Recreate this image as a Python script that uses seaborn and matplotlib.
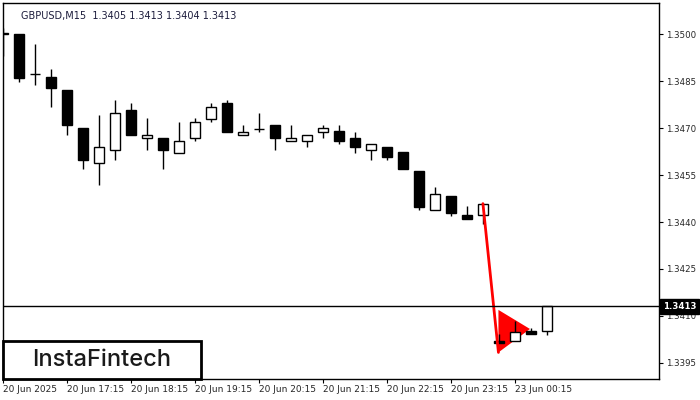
import numpy as np
import pandas as pd
import seaborn as sns
import matplotlib.pyplot as plt
import matplotlib.transforms as mtransforms
from matplotlib.patches import Rectangle, Polygon

sns.set_style("white")
plt.rcParams['font.family'] = ['DejaVu Sans']

# GBPUSD M15 candles
opens = [1.35000, 1.35000, 1.34872, 1.34863, 1.34821, 1.34700, 1.34590, 1.34632, 1.34760, 1.34670,
         1.34670, 1.34622, 1.34670, 1.34731, 1.34782, 1.34680, 1.34699, 1.34712, 1.34659, 1.34659,
         1.34689, 1.34690, 1.34670, 1.34630, 1.34641, 1.34623, 1.34562, 1.34439, 1.34482, 1.34422,
         1.34421, 1.34020, 1.34021, 1.34050, 1.34050]
highs = [1.35022, 1.35000, 1.34971, 1.34891, 1.34821, 1.34700, 1.34741, 1.34792, 1.34782, 1.34732,
         1.34670, 1.34721, 1.34732, 1.34782, 1.34791, 1.34712, 1.34750, 1.34712, 1.34712, 1.34680,
         1.34712, 1.34712, 1.34689, 1.34651, 1.34641, 1.34623, 1.34562, 1.34511, 1.34482, 1.34450,
         1.34459, 1.34041, 1.34083, 1.34060, 1.34130]
lows = [1.34930, 1.34848, 1.34838, 1.34768, 1.34678, 1.34570, 1.34519, 1.34598, 1.34678, 1.34630,
        1.34571, 1.34622, 1.34659, 1.34721, 1.34688, 1.34680, 1.34688, 1.34630, 1.34659, 1.34640,
        1.34669, 1.34650, 1.34621, 1.34598, 1.34598, 1.34570, 1.34439, 1.34439, 1.34419, 1.34410,
        1.34393, 1.34012, 1.34021, 1.34041, 1.34040]
closes = [1.35006, 1.34860, 1.34872, 1.34828, 1.34710, 1.34598, 1.34641, 1.34750, 1.34678, 1.34680,
          1.34630, 1.34660, 1.34721, 1.34769, 1.34688, 1.34689, 1.34699, 1.34669, 1.34670, 1.34680,
          1.34700, 1.34659, 1.34640, 1.34651, 1.34608, 1.34570, 1.34448, 1.34491, 1.34428, 1.34410,
          1.34459, 1.34012, 1.34049, 1.34041, 1.34130]

time_labels = ["20 Jun 2025", "20 Jun 17:15", "20 Jun 18:15", "20 Jun 19:15", "20 Jun 20:15",
               "20 Jun 21:15", "20 Jun 22:15", "20 Jun 23:15", "23 Jun 00:15"]
price_ticks = [1.3395, 1.3410, 1.3425, 1.3440, 1.3455, 1.3470, 1.3485, 1.3500]
last_price = 1.3413

# bearish pennant: pole and flag
pole_x = [30.0, 30.97]
pole_y = [1.34459, 1.33983]
flag_x = [30.97, 30.97, 32.94]
flag_y = [1.34119, 1.33983, 1.34058]

df = pd.DataFrame({"open": opens, "high": highs, "low": lows, "close": closes})
df["x"] = np.arange(len(df))
df["bull"] = df["close"] >= df["open"]

fig = plt.figure(figsize=(7, 4), dpi=100)
ax = fig.add_axes([2.7 / 700, 21 / 400, (659 - 2.7) / 700, (379 - 3) / 400])

# pennant flag under the candles
ax.add_patch(Polygon(list(zip(flag_x, flag_y)), closed=True, fc="#ff0000", ec="none", zorder=1))

ax.vlines(df["x"], df["low"], df["high"], color="black", lw=1.0, zorder=2)
body_h = (df["close"] - df["open"]).abs()
body_b = df[["open", "close"]].min(axis=1)
ax.bar(df["x"], body_h, bottom=body_b, width=0.64,
       color=np.where(df["bull"], "white", "black"), edgecolor="black", linewidth=1.0, zorder=3)

sns.lineplot(x=pole_x, y=pole_y, color="#ff0000", lw=2, ax=ax, zorder=4)

ax.axhline(last_price, color="black", lw=1.0, zorder=5)

ax.set_xlim(0, 41)
ax.set_ylim(1.33898, 1.351007)

ax.set_xticks(np.arange(0, 4 * len(time_labels), 4))
ax.set_xticklabels(time_labels, ha="left", fontsize=6.5)
ax.yaxis.tick_right()
ax.set_yticks(price_ticks)
ax.set_yticklabels([f"{p:.4f}" for p in price_ticks], fontsize=6.2)
ax.tick_params(axis="both", direction="out", length=3, width=0.8, color="black")
ax.tick_params(axis="x", bottom=True, pad=1)
ax.tick_params(axis="y", right=True, pad=2)
for s in ax.spines.values():
    s.set_visible(True)
    s.set_color("black")
    s.set_linewidth(1.0)

ax.text(18 / 656, 0.98, "GBPUSD,M15  1.3405 1.3413 1.3404 1.3413", transform=ax.transAxes,
        fontsize=7, color="#1c1c3c", ha="left", va="top")

trans = mtransforms.blended_transform_factory(ax.transAxes, ax.transData)
ax.text(1.006, last_price, f"{last_price:.4f}", transform=trans, fontsize=6.2, color="white",
        fontweight="bold", ha="left", va="center", zorder=10, clip_on=False,
        bbox=dict(boxstyle="square,pad=0.3", fc="black", ec="black"))

# logo box
fig.add_artist(Rectangle((3 / 700, 21 / 400), 198 / 700, 38 / 400, transform=fig.transFigure,
                         fc="white", ec="black", lw=2, zorder=20))
fig.text(102 / 700, 40 / 400, "InstaFintech", family=["Inter", "DejaVu Sans"], fontsize=17,
         fontweight="medium", color="#1a1a1a", ha="center", va="center", zorder=21)

fig.savefig("out.png", dpi=100)
